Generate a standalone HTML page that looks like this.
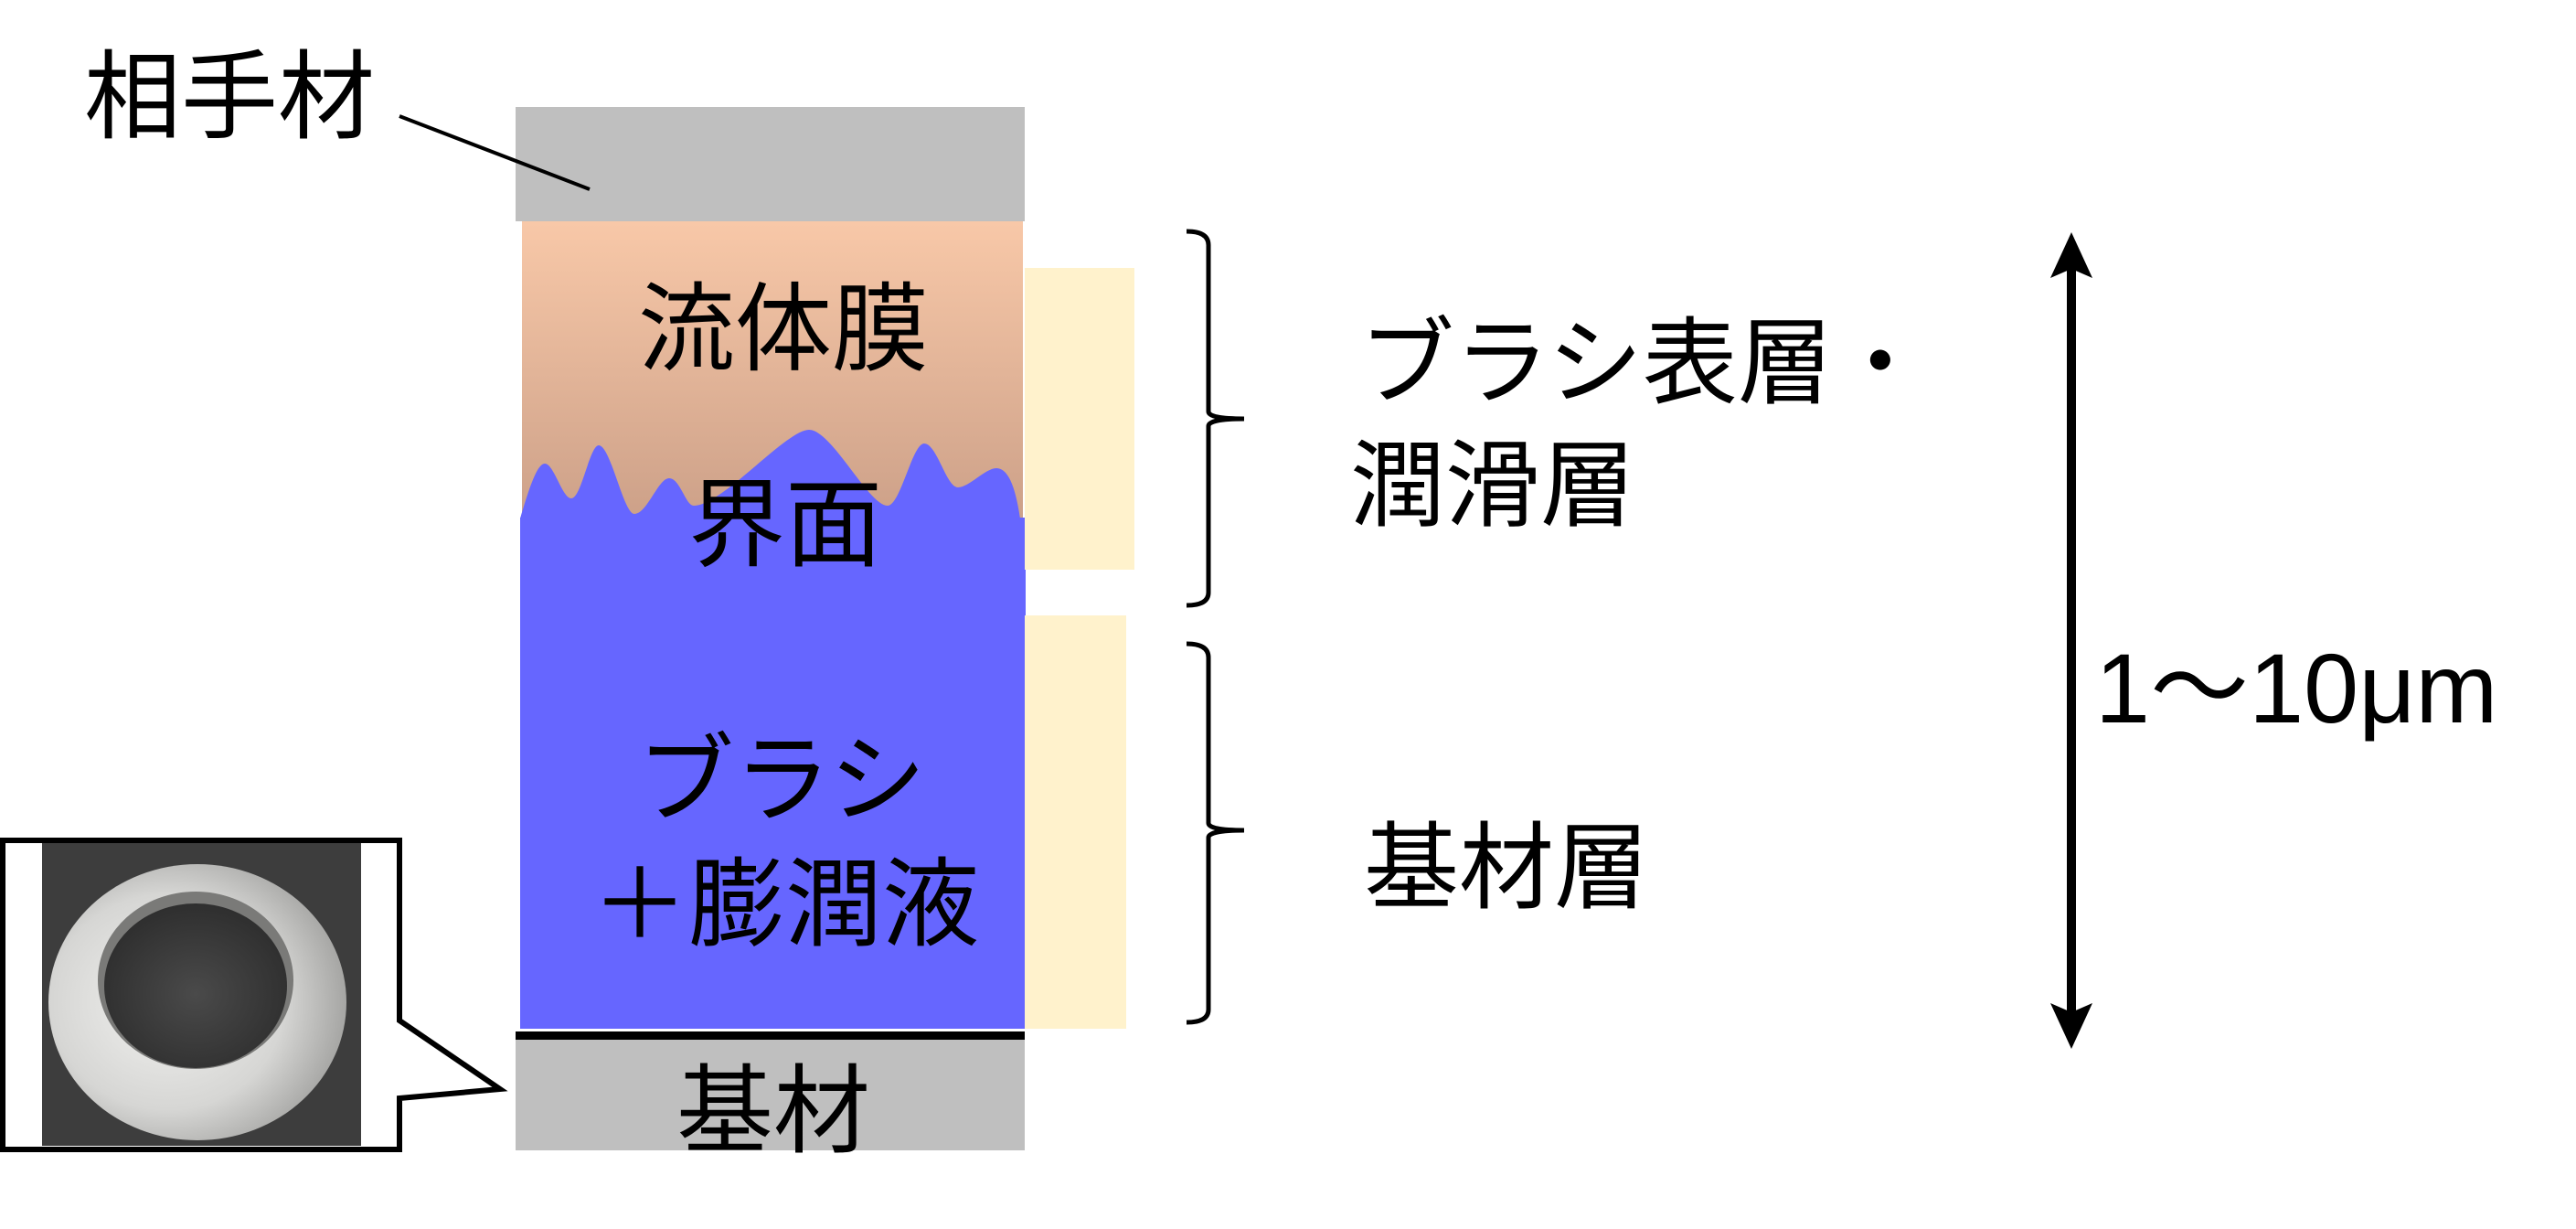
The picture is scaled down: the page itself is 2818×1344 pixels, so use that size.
<!DOCTYPE html>
<html><head><meta charset="utf-8"><style>
html,body{margin:0;padding:0;background:#fff;}
svg{display:block;}
text{font-family:"Liberation Sans","Noto Sans CJK JP",sans-serif;fill:#000;}
</style></head><body>
<svg width="2818" height="1344" viewBox="0 0 2818 1344" xmlns="http://www.w3.org/2000/svg">
<defs>
<linearGradient id="og" x1="0" y1="0" x2="0" y2="1">
<stop offset="0" stop-color="#f8c8a8"/><stop offset="1" stop-color="#cca088"/>
</linearGradient>
<radialGradient id="ring" cx="0.4" cy="0.5" r="0.65">
<stop offset="0" stop-color="#f2f2f0"/><stop offset="0.6" stop-color="#d6d6d4"/><stop offset="1" stop-color="#9a9a98"/>
</radialGradient>
<radialGradient id="hole" cx="0.5" cy="0.55" r="0.6">
<stop offset="0" stop-color="#4a4a4a"/><stop offset="1" stop-color="#2c2c2c"/>
</radialGradient>
</defs>

<rect x="564" y="117" width="557" height="125" fill="#bfbfbf"/>
<line x1="437" y1="127" x2="645" y2="207" stroke="#000" stroke-width="4"/>
<text x="92" y="143" font-size="106">相手材</text>

<rect x="571" y="242" width="548" height="330" fill="url(#og)"/>
<path d="M569,567 C580,530 588,507 596,507 C606,507 615,545 625,545 C636,545 645,487 655,487 C668,487 682,562 694,562 C708,562 720,523 732,523 C744,523 750,553 759,553 C790,553 860,470 885,470 C910,470 950,553 971,553 C985,553 998,485 1011,485 C1025,485 1035,533 1048,533 C1060,533 1078,512 1090,512 C1105,512 1112,540 1116,567 Z" fill="#6666ff"/>
<rect x="569" y="566" width="553" height="559" fill="#6666ff"/>

<rect x="1121" y="293" width="120" height="330" fill="#fff2cc"/>
<rect x="1121" y="673" width="111" height="452" fill="#fff2cc"/>

<rect x="564" y="1128" width="557" height="9" fill="#000"/>
<rect x="564" y="1137" width="557" height="121" fill="#bfbfbf"/>

<text x="857" y="397" font-size="106" text-anchor="middle">流体膜</text>
<text x="859" y="611" font-size="106" text-anchor="middle">界面</text>
<text x="855" y="890" font-size="106" text-anchor="middle">ブラシ</text>
<text x="859" y="1026" font-size="106" text-anchor="middle">＋膨潤液</text>
<text x="846" y="1252" font-size="106" text-anchor="middle">基材</text>

<path d="M1298,253 Q1322,253 1322,268 L1322,450 Q1322,458 1361,458 Q1322,458 1322,466 L1322,648 Q1322,662 1298,662" fill="none" stroke="#000" stroke-width="5"/>
<path d="M1298,704 Q1322,704 1322,719 L1322,900 Q1322,908 1361,908 Q1322,908 1322,916 L1322,1104 Q1322,1118 1298,1118" fill="none" stroke="#000" stroke-width="5"/>

<text x="1487" y="433" font-size="104">ブラシ表層・</text>
<text x="1477" y="567" font-size="104">潤滑層</text>
<text x="1492" y="985" font-size="104">基材層</text>

<line x1="2266" y1="290" x2="2266" y2="1110" stroke="#000" stroke-width="10"/>
<polygon points="2266,254 2289,304 2266,294 2243,304" fill="#000"/>
<polygon points="2266,1147 2289,1097 2266,1107 2243,1097" fill="#000"/>
<text x="2292" y="790" font-size="108" font-family="'Noto Sans CJK JP',sans-serif">1〜10μm</text>

<path d="M437,1116 L547,1191 L437,1201 L437,1257 L3,1257 L3,919 L437,919 Z" fill="#fff" stroke="#000" stroke-width="6" stroke-linejoin="miter"/>
<rect x="46" y="922" width="349" height="331" fill="#3d3d3d"/>
<ellipse cx="216" cy="1096" rx="163" ry="151" fill="url(#ring)"/>
<ellipse cx="214" cy="1072" rx="107" ry="97" fill="#7a7a78"/>
<ellipse cx="214" cy="1078" rx="100" ry="90" fill="url(#hole)"/>
</svg>
</body></html>
